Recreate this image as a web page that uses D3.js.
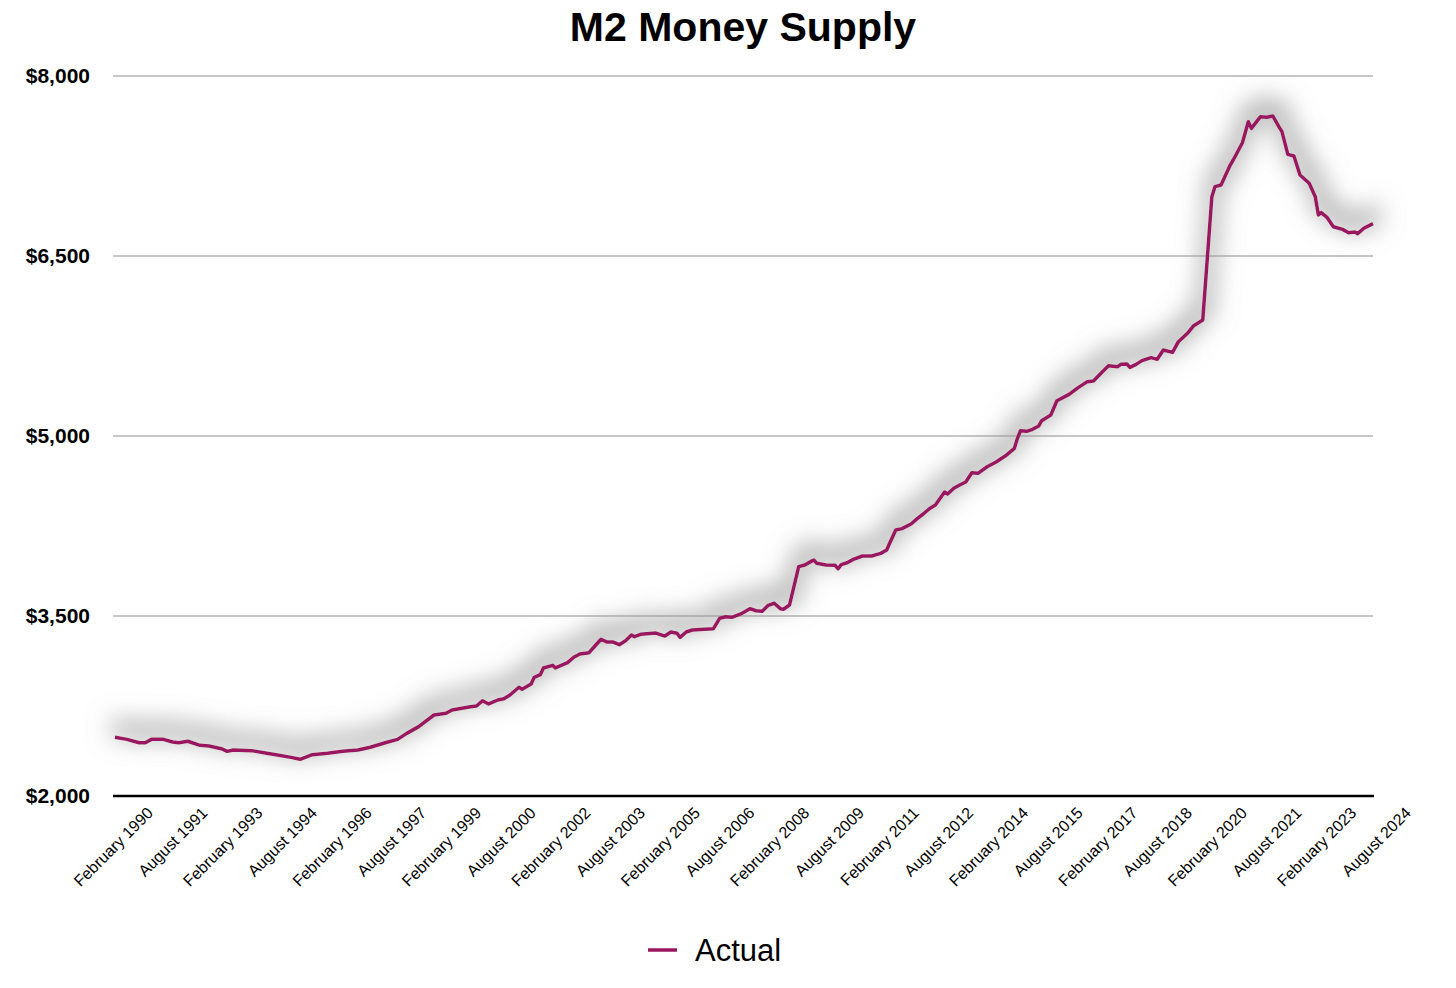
<!DOCTYPE html>
<html>
<head>
<meta charset="utf-8">
<script src="https://cdn.jsdelivr.net/npm/d3@7"></script>
<style>
  html, body { margin: 0; padding: 0; background: #fff; }
  svg { display: block; font-family: "Liberation Sans", Arial, Helvetica, sans-serif; }
</style>
</head>
<body>
<svg id="chart" width="1456" height="988"></svg>
<script>
const months = [
  "1990-02","1990-06","1990-10","1990-12","1991-02","1991-06","1991-09","1991-11",
  "1992-02","1992-06","1992-09","1993-01","1993-03","1993-05","1993-11","1994-04",
  "1994-08","1994-12","1995-03","1995-07","1995-12","1996-05","1996-10","1997-02",
  "1997-07","1997-11","1998-02","1998-06","1998-11","1999-03","1999-05","1999-11",
  "2000-01","2000-03","2000-05","2000-08","2000-10","2000-12","2001-03","2001-04",
  "2001-07","2001-08","2001-10","2001-11","2002-02","2002-03","2002-07","2002-09",
  "2002-11","2003-02","2003-04","2003-06","2003-08","2003-10","2003-12","2004-02",
  "2004-04","2004-05","2004-07","2004-12","2005-03","2005-05","2005-07","2005-08",
  "2005-10","2005-12","2006-04","2006-07","2006-09","2006-11","2007-01","2007-04",
  "2007-07","2007-09","2007-11","2008-01","2008-03","2008-05","2008-06","2008-08",
  "2008-11","2009-01","2009-03","2009-04","2009-05","2009-08","2009-11","2009-12",
  "2010-01","2010-03","2010-05","2010-08","2010-11","2011-02","2011-04","2011-05",
  "2011-07","2011-09","2011-12","2012-02","2012-04","2012-06","2012-08","2012-11",
  "2012-12","2013-02","2013-04","2013-06","2013-08","2013-10","2014-01","2014-04",
  "2014-07","2014-10","2014-11","2014-12","2015-02","2015-04","2015-06","2015-07",
  "2015-10","2015-12","2016-04","2016-07","2016-10","2016-12","2017-03","2017-05",
  "2017-08","2017-09","2017-11","2017-12","2018-02","2018-04","2018-07","2018-09",
  "2018-11","2019-02","2019-04","2019-07","2019-09","2019-12","2020-03","2020-04",
  "2020-06","2020-09","2020-10","2021-01","2021-03","2021-04","2021-07","2021-09",
  "2021-11","2022-01","2022-02","2022-04","2022-06","2022-08","2022-11","2023-01",
  "2023-02","2023-03","2023-05","2023-07","2023-10","2023-12","2024-02","2024-03",
  "2024-05","2024-08"
];
const m2Values = [
  2489,2472,2444,2444,2472,2472,2450,2444,
  2456,2422,2417,2394,2372,2383,2378,2356,
  2339,2322,2306,2344,2356,2372,2383,2406,
  2444,2472,2522,2578,2675,2689,2717,2744,
  2750,2794,2767,2800,2811,2842,2906,2889,
  2933,2989,3011,3067,3089,3067,3111,3156,
  3183,3194,3250,3306,3283,3283,3261,3294,
  3342,3328,3347,3358,3333,3367,3356,3322,
  3367,3383,3389,3394,3481,3494,3489,3517,
  3561,3544,3539,3589,3606,3561,3556,3592,
  3911,3925,3953,3967,3939,3925,3922,3894,
  3928,3944,3972,4000,4000,4022,4050,4106,
  4217,4228,4267,4311,4350,4394,4425,4533,
  4517,4564,4592,4617,4694,4689,4744,4783,
  4833,4897,4981,5044,5039,5056,5083,5128,
  5175,5294,5347,5403,5453,5458,5536,5586,
  5578,5597,5600,5572,5597,5628,5653,5639,
  5717,5697,5786,5856,5919,5967,6994,7078,
  7092,7258,7300,7444,7619,7564,7661,7656,
  7667,7578,7536,7347,7333,7175,7106,6994,
  6842,6861,6819,6744,6722,6694,6700,6686,
  6731,6770
];

// y axis ticks and x axis tick months
const yTicks = [2000, 3500, 5000, 6500, 8000];
const tickMonths = [
  "1990-02","1991-08","1993-02","1994-08","1996-02","1997-08","1999-02","2000-08",
  "2002-02","2003-08","2005-02","2006-08","2008-02","2009-08","2011-02","2012-08",
  "2014-02","2015-08","2017-02","2018-08","2020-02","2021-08","2023-02","2024-08"
];

const parseMonth = d3.timeParse("%Y-%m");
const formatTick = d3.timeFormat("%B %Y");
const data = months.map((m, i) => ({ date: parseMonth(m), value: m2Values[i] }));

const svg = d3.select("#chart");
const plotLeft = 115, plotRight = 1373, plotTop = 76, plotBottom = 796;

const x = d3.scaleTime()
    .domain([parseMonth(months[0]), parseMonth(months[months.length - 1])])
    .range([plotLeft, plotRight]);

const y = d3.scaleLinear()
    .domain([2000, 8000])
    .range([plotBottom, plotTop]);

// soft grey shadow behind the line (thickened, blurred, pushed up a little)
const defs = svg.append("defs");
const filter = defs.append("filter")
    .attr("id", "shadow")
    .attr("filterUnits", "userSpaceOnUse")
    .attr("x", 60).attr("y", 30)
    .attr("width", 1390).attr("height", 810);
filter.append("feMorphology").attr("in", "SourceAlpha").attr("operator", "dilate").attr("radius", 6).attr("result", "fat");
filter.append("feGaussianBlur").attr("in", "fat").attr("stdDeviation", 12).attr("result", "blur");
filter.append("feOffset").attr("in", "blur").attr("dx", 2).attr("dy", -10).attr("result", "off");
filter.append("feFlood").attr("flood-color", "#999999").attr("flood-opacity", 0.75).attr("result", "col");
filter.append("feComposite").attr("in", "col").attr("in2", "off").attr("operator", "in").attr("result", "sh");
const merge = filter.append("feMerge");
merge.append("feMergeNode").attr("in", "sh");
merge.append("feMergeNode").attr("in", "SourceGraphic");

// title
svg.append("text")
    .attr("x", 743)
    .attr("y", 41)
    .attr("text-anchor", "middle")
    .style("font-size", "41px")
    .style("font-weight", "bold")
    .text("M2 Money Supply");

// gridlines + y labels
const yAxis = svg.append("g").attr("class", "y-axis");
yAxis.selectAll("line")
    .data(yTicks.filter(d => d !== 2000))
    .enter()
    .append("line")
    .attr("x1", plotLeft - 2)
    .attr("x2", plotRight)
    .attr("y1", d => y(d))
    .attr("y2", d => y(d))
    .style("stroke", "#b3b3b3")
    .style("stroke-width", 1.5);

yAxis.selectAll("text")
    .data(yTicks)
    .enter()
    .append("text")
    .attr("x", 90)
    .attr("y", d => y(d) + 7)
    .attr("text-anchor", "end")
    .style("font-size", "21px")
    .style("font-weight", "bold")
    .text(d => "$" + d3.format(",")(d));

// rotated month labels
svg.append("g").attr("class", "x-labels")
    .selectAll("text")
    .data(tickMonths.map(parseMonth))
    .enter()
    .append("text")
    .attr("transform", d => "translate(" + (x(d) + 39) + "," + 814 + ") rotate(-45)")
    .attr("text-anchor", "end")
    .style("font-size", "16px")
    .text(d => formatTick(d));

// the series
const line = d3.line()
    .x(d => x(d.date))
    .y(d => y(d.value));

svg.append("path")
    .datum(data)
    .attr("d", line)
    .attr("filter", "url(#shadow)")
    .style("fill", "none")
    .style("stroke", "#9a1660")
    .style("stroke-width", 3.5)
    .style("stroke-linejoin", "round");

// x axis baseline
svg.append("line")
    .attr("x1", plotLeft - 2)
    .attr("x2", plotRight + 1)
    .attr("y1", y(2000))
    .attr("y2", y(2000))
    .style("stroke", "#000")
    .style("stroke-width", 2.5);

// legend
const legend = svg.append("g").attr("class", "legend");
legend.append("line")
    .attr("x1", 648).attr("x2", 677)
    .attr("y1", 950).attr("y2", 950)
    .style("stroke", "#9a1660")
    .style("stroke-width", 3.5);
legend.append("text")
    .attr("x", 695)
    .attr("y", 961)
    .style("font-size", "31px")
    .text("Actual");
</script>
</body>
</html>
